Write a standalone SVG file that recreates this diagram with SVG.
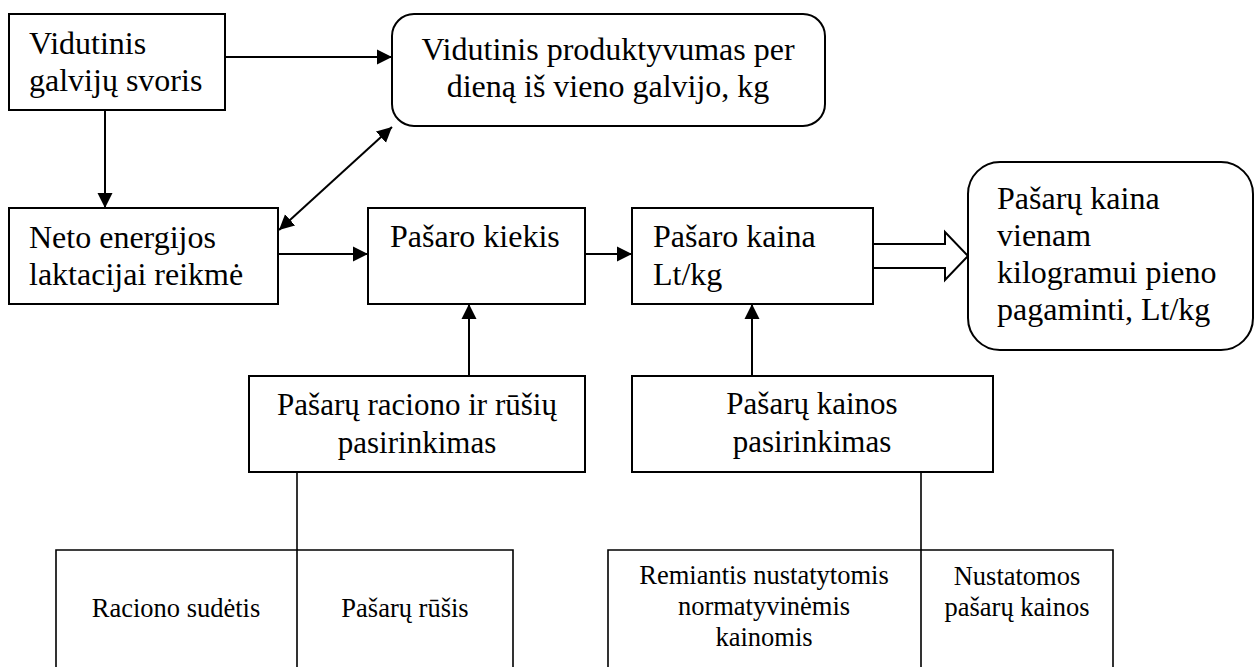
<svg xmlns="http://www.w3.org/2000/svg" width="1254" height="667" viewBox="0 0 1254 667">
  <style>
    .box { fill: #fff; stroke: #000; stroke-width: 2; }
    .thin { fill: none; stroke: #000; stroke-width: 1.6; }
    text { font-family: 'Liberation Serif', Tinos, 'Times New Roman', 'DejaVu Serif', serif; fill: #000; }
    .t { font-size: 32px; }
    .tm { font-size: 31px; text-anchor: middle; }
    .ts { font-size: 26.5px; text-anchor: middle; }
    .c { text-anchor: middle; }
    .line { fill: none; stroke: #000; stroke-width: 2; }
  </style>
  <defs>
    <marker id="arrow" markerUnits="userSpaceOnUse" markerWidth="16" markerHeight="16" viewBox="0 0 16 16" refX="15" refY="8" orient="auto-start-reverse">
      <path d="M0,0.5 L15,8 L0,15.5 z" fill="#000"/>
    </marker>
  </defs>
  <rect width="1254" height="667" fill="#fff"/>

  <!-- connectors -->
  <g id="connectors">
    <line class="line" x1="105" y1="110" x2="105" y2="208" marker-end="url(#arrow)"/>
    <line class="line" x1="225" y1="57" x2="392" y2="57" marker-end="url(#arrow)"/>
    <line class="line" x1="279" y1="230" x2="392" y2="127" marker-start="url(#arrow)" marker-end="url(#arrow)"/>
    <line class="line" x1="278" y1="254" x2="368" y2="254" marker-end="url(#arrow)"/>
    <line class="line" x1="585" y1="254" x2="632" y2="254" marker-end="url(#arrow)"/>
    <line class="line" x1="469" y1="376" x2="469" y2="304" marker-end="url(#arrow)"/>
    <line class="line" x1="752" y1="376" x2="752" y2="304" marker-end="url(#arrow)"/>
    <!-- block arrow to the result -->
    <path class="box" d="M873,244 L945,244 L945,232 L968,256 L945,280 L945,268 L873,268"/>
    <line class="thin" x1="297" y1="472" x2="297" y2="550"/>
    <line class="thin" x1="921" y1="472" x2="921" y2="550"/>
  </g>

  <g id="node-svoris" font-family="Liberation Serif, serif">
    <rect class="box" x="9" y="14" width="216" height="96"/>
    <text class="t" x="29" y="54">Vidutinis</text>
    <text class="t" x="29" y="91">galvijų svoris</text>
  </g>

  <g id="node-produktyvumas">
    <rect class="box" x="392" y="14" width="433" height="112" rx="22" ry="22"/>
    <text class="t c" x="608" y="60">Vidutinis produktyvumas per</text>
    <text class="t c" x="608" y="97">dieną iš vieno galvijo, kg</text>
  </g>

  <g id="node-neto">
    <rect class="box" x="9" y="208" width="269" height="96"/>
    <text class="t" x="29" y="248">Neto energijos</text>
    <text class="t" x="29" y="285">laktacijai reikmė</text>
  </g>

  <g id="node-kiekis">
    <rect class="box" x="368" y="208" width="217" height="96"/>
    <text class="t" x="390" y="247">Pašaro kiekis</text>
  </g>

  <g id="node-kaina">
    <rect class="box" x="632" y="208" width="241" height="96"/>
    <text class="t" x="653" y="247">Pašaro kaina</text>
    <text class="t" x="653" y="285">Lt/kg</text>
  </g>

  <g id="node-rezultatas">
    <rect class="box" x="968" y="162" width="285" height="188" rx="32" ry="32"/>
    <text class="t" x="997" y="209">Pašarų kaina</text>
    <text class="t" x="997" y="246">vienam</text>
    <text class="t" x="997" y="283">kilogramui pieno</text>
    <text class="t" x="997" y="320">pagaminti, Lt/kg</text>
  </g>

  <g id="node-racionas">
    <rect class="box" x="249" y="376" width="336" height="96"/>
    <text class="tm" x="417" y="415">Pašarų raciono ir rūšių</text>
    <text class="tm" x="417" y="453">pasirinkimas</text>
  </g>

  <g id="node-kainos">
    <rect class="box" x="632" y="376" width="361" height="96"/>
    <text class="tm" x="812" y="414">Pašarų kainos</text>
    <text class="tm" x="812" y="452">pasirinkimas</text>
  </g>

  <g id="node-sudetis">
    <path class="thin" d="M56,668 L56,550 L297,550 L297,668"/>
    <text class="ts" x="176" y="617">Raciono sudėtis</text>
  </g>

  <g id="node-rusis">
    <path class="thin" d="M297,550 L513,550 L513,668"/>
    <text class="ts" x="405" y="617">Pašarų rūšis</text>
  </g>

  <g id="node-normatyvines">
    <path class="thin" d="M608,668 L608,550 L921,550 L921,668"/>
    <text class="ts" x="764" y="584">Remiantis nustatytomis</text>
    <text class="ts" x="764" y="615">normatyvinėmis</text>
    <text class="ts" x="764" y="646">kainomis</text>
  </g>

  <g id="node-nustatomos">
    <path class="thin" d="M921,550 L1113,550 L1113,668"/>
    <text class="ts" x="1017" y="585">Nustatomos</text>
    <text class="ts" x="1017" y="616">pašarų kainos</text>
  </g>
</svg>
